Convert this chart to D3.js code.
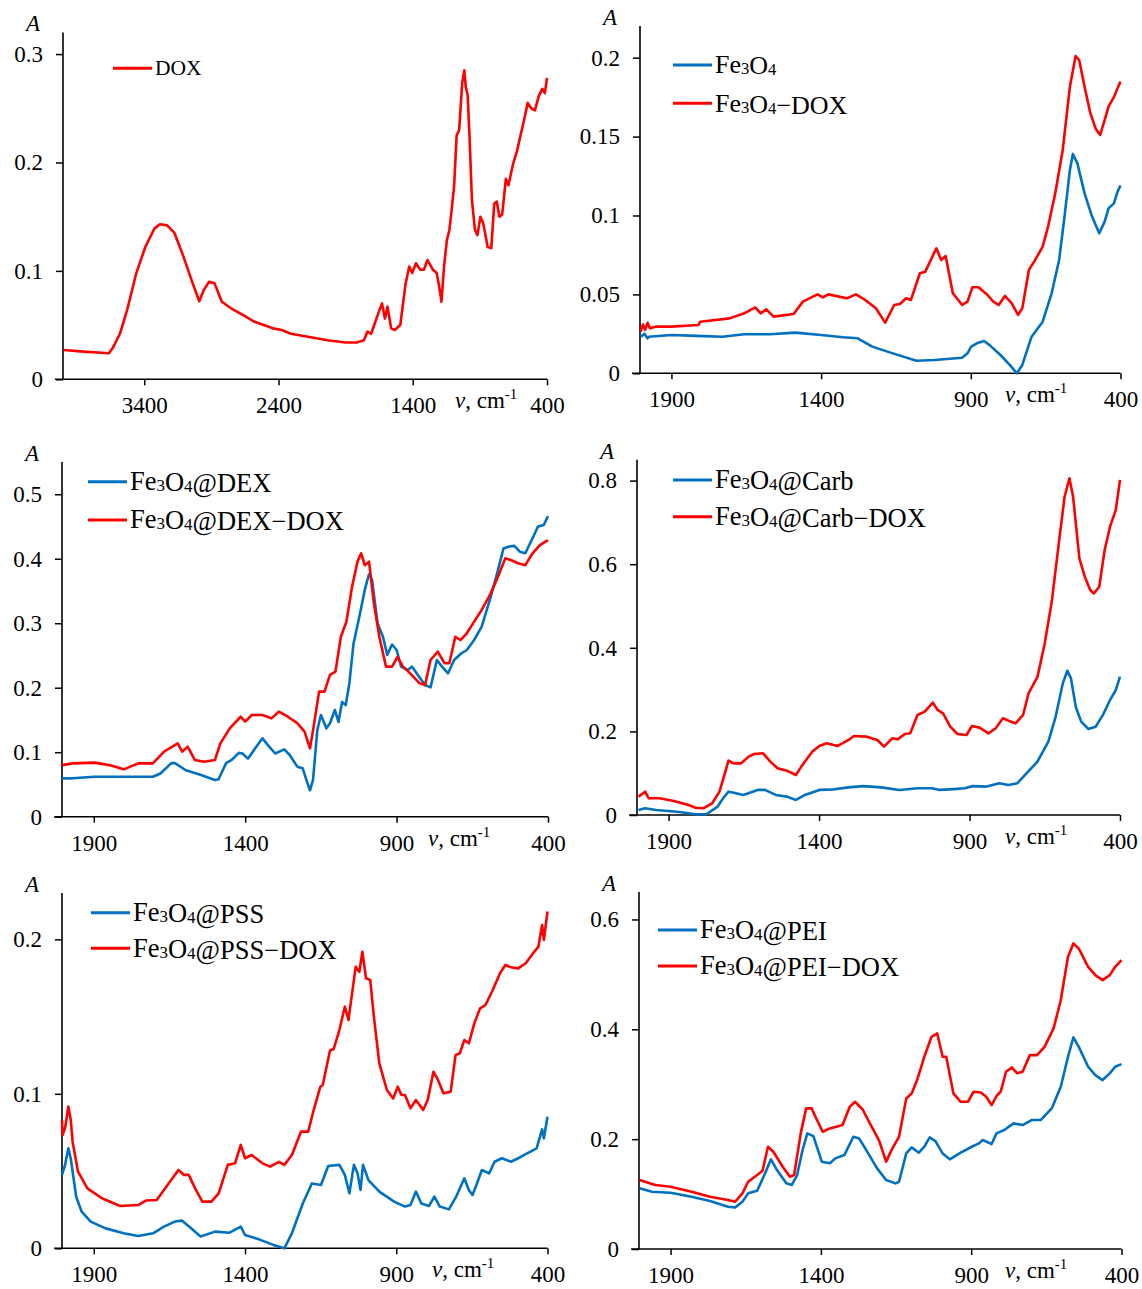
<!DOCTYPE html>
<html><head><meta charset="utf-8">
<script src="https://cdn.jsdelivr.net/npm/d3@7"></script>
<style>
body{margin:0;background:#fff}
svg{display:block;background:#fff}
text{font-family:"Liberation Serif","Times New Roman",serif;fill:#000}
</style>
</head><body>
<svg id="chart" width="1142" height="1289"></svg>
<script>
// ---------- DATA (wavenumber cm-1, absorbance) ----------
const doxSpectrum = [[4000,0.027],[3853,0.0255],[3663,0.024],[3636,0.0286],[3581,0.042],[3527,0.064],[3459,0.098],[3392,0.122],[3324,0.139],[3283,0.143],[3229,0.142],[3175,0.135],[3107,0.113],[3039,0.0885],[2990,0.072],[2958,0.082],[2917,0.090],[2876,0.0885],[2822,0.0716],[2754,0.0655],[2659,0.059],[2578,0.053],[2442,0.047],[2375,0.0455],[2307,0.042],[2171,0.039],[2035,0.036],[1900,0.034],[1818,0.034],[1764,0.036],[1737,0.044],[1710,0.042],[1656,0.061],[1629,0.070],[1607,0.056],[1588,0.067],[1561,0.047],[1534,0.0455],[1493,0.050],[1453,0.0885],[1426,0.104],[1404,0.098],[1376,0.107],[1344,0.101],[1317,0.101],[1290,0.110],[1249,0.101],[1222,0.098],[1203,0.0855],[1186,0.0716],[1167,0.104],[1146,0.128],[1127,0.138],[1113,0.153],[1092,0.178],[1073,0.225],[1054,0.230],[1032,0.273],[1016,0.285],[1005,0.270],[991,0.262],[978,0.227],[959,0.165],[937,0.138],[918,0.133],[896,0.150],[875,0.144],[842,0.122],[815,0.121],[793,0.162],[774,0.164],[755,0.150],[734,0.152],[706,0.185],[687,0.179],[652,0.199],[625,0.210],[571,0.239],[544,0.255],[517,0.250],[490,0.248],[462,0.261],[435,0.268],[416,0.264],[400,0.278]];

const fe3o4Spectrum = [[2003,0.0232],[1990,0.025],[1980,0.0222],[1975,0.0232],[1900,0.0243],[1816,0.0237],[1730,0.0232],[1657,0.0247],[1571,0.0247],[1486,0.0258],[1400,0.0243],[1327,0.0228],[1278,0.0222],[1229,0.0169],[1168,0.0131],[1082,0.0080],[1021,0.0084],[929,0.0099],[911,0.0127],[899,0.0169],[880,0.019],[856,0.0205],[838,0.018],[801,0.0116],[770,0.0053],[746,0.0],[728,0.0053],[697,0.0232],[660,0.0327],[630,0.0507],[605,0.0718],[587,0.0993],[569,0.1288],[559,0.139],[544,0.133],[520,0.114],[495,0.0993],[471,0.0887],[453,0.0961],[440,0.1045],[422,0.1077],[410,0.115],[400,0.119]];

const fe3o4DoxSpectrum = [[2003,0.0265],[1995,0.031],[1988,0.0275],[1980,0.032],[1972,0.0285],[1950,0.0296],[1900,0.0296],[1810,0.0306],[1804,0.0327],[1706,0.0348],[1657,0.038],[1620,0.0418],[1602,0.038],[1583,0.0405],[1559,0.0359],[1492,0.0376],[1461,0.0454],[1412,0.0500],[1394,0.0481],[1376,0.050],[1314,0.0475],[1284,0.050],[1253,0.0465],[1217,0.0412],[1186,0.0321],[1156,0.0433],[1137,0.0439],[1116,0.0475],[1100,0.0465],[1070,0.0634],[1052,0.0644],[1015,0.0792],[999,0.0718],[984,0.0743],[960,0.0507],[929,0.0433],[911,0.0454],[895,0.0545],[874,0.0545],[844,0.0496],[825,0.0454],[807,0.0433],[786,0.049],[764,0.0444],[742,0.037],[728,0.0412],[706,0.0655],[685,0.0718],[660,0.0803],[642,0.0929],[618,0.114],[593,0.1415],[569,0.1816],[550,0.201],[538,0.1985],[520,0.1816],[501,0.165],[483,0.155],[468,0.151],[453,0.1605],[440,0.169],[422,0.175],[410,0.1806],[400,0.1848]];

const dexSpectrum = [[2005,0.0595],[1970,0.0595],[1898,0.062],[1789,0.062],[1705,0.062],[1680,0.067],[1644,0.083],[1632,0.083],[1596,0.072],[1548,0.065],[1500,0.057],[1488,0.058],[1463,0.083],[1445,0.088],[1421,0.099],[1409,0.098],[1391,0.090],[1367,0.106],[1343,0.1215],[1325,0.111],[1301,0.098],[1271,0.1045],[1253,0.0957],[1228,0.0776],[1210,0.075],[1198,0.057],[1186,0.041],[1176,0.057],[1162,0.134],[1150,0.1577],[1132,0.137],[1120,0.145],[1104,0.1655],[1092,0.147],[1080,0.178],[1068,0.173],[1056,0.207],[1042,0.269],[1023,0.310],[1005,0.352],[991,0.376],[981,0.367],[963,0.300],[945,0.279],[931,0.251],[915,0.267],[900,0.2585],[885,0.2327],[863,0.2275],[849,0.2327],[830,0.2198],[806,0.2042],[788,0.2006],[767,0.243],[750,0.2327],[730,0.2223],[710,0.243],[686,0.2534],[668,0.2585],[644,0.274],[619,0.2947],[589,0.3413],[565,0.3826],[547,0.416],[529,0.419],[511,0.4199],[493,0.411],[475,0.4085],[451,0.4317],[433,0.450],[414,0.4524],[400,0.466]];

const dexDoxSpectrum = [[2005,0.080],[1970,0.0827],[1898,0.0838],[1849,0.080],[1801,0.0734],[1753,0.0827],[1705,0.0827],[1668,0.1008],[1623,0.1137],[1608,0.1008],[1590,0.1086],[1566,0.0879],[1536,0.0853],[1500,0.0879],[1482,0.1137],[1451,0.137],[1415,0.155],[1400,0.1474],[1378,0.1577],[1343,0.1577],[1313,0.1525],[1289,0.163],[1259,0.155],[1228,0.145],[1204,0.1319],[1186,0.106],[1174,0.1396],[1156,0.194],[1138,0.194],[1120,0.2198],[1102,0.225],[1084,0.279],[1066,0.302],[1047,0.357],[1029,0.3955],[1017,0.4085],[1005,0.390],[991,0.3955],[975,0.331],[957,0.279],[935,0.2327],[915,0.2327],[897,0.248],[879,0.2327],[855,0.2223],[824,0.2068],[806,0.2042],[788,0.243],[764,0.256],[742,0.238],[726,0.238],[706,0.279],[689,0.274],[668,0.2844],[644,0.3025],[619,0.3206],[589,0.3464],[565,0.3723],[541,0.4007],[523,0.398],[499,0.393],[475,0.390],[451,0.4085],[427,0.421],[400,0.429]];

const carbSpectrum = [[2000,0.012],[1978,0.016],[1942,0.012],[1900,0.0096],[1858,0.0064],[1810,0.0016],[1773,0.0024],[1737,0.020],[1719,0.040],[1701,0.0558],[1683,0.053],[1652,0.048],[1604,0.060],[1580,0.060],[1544,0.048],[1507,0.044],[1477,0.036],[1447,0.048],[1399,0.060],[1350,0.0614],[1302,0.066],[1254,0.069],[1193,0.066],[1133,0.060],[1073,0.064],[1024,0.064],[1000,0.060],[952,0.062],[916,0.064],[892,0.069],[843,0.068],[801,0.076],[771,0.072],[741,0.076],[710,0.100],[674,0.128],[638,0.1755],[614,0.235],[590,0.315],[575,0.3454],[563,0.327],[547,0.259],[529,0.2233],[505,0.2058],[481,0.211],[457,0.239],[433,0.275],[414,0.299],[400,0.331]];

const carbDoxSpectrum = [[2000,0.0439],[1978,0.0558],[1966,0.0399],[1930,0.0399],[1882,0.0335],[1834,0.024],[1810,0.0175],[1785,0.016],[1755,0.028],[1731,0.0558],[1713,0.0997],[1701,0.130],[1683,0.1236],[1659,0.1236],[1634,0.1396],[1616,0.146],[1586,0.1476],[1562,0.1276],[1538,0.1117],[1507,0.106],[1477,0.0957],[1459,0.1157],[1423,0.1515],[1399,0.1651],[1375,0.1715],[1338,0.1651],[1302,0.1795],[1284,0.189],[1242,0.1874],[1206,0.1795],[1184,0.1635],[1157,0.1835],[1139,0.181],[1115,0.1938],[1097,0.1954],[1073,0.2393],[1049,0.2473],[1022,0.2688],[1006,0.2513],[988,0.2433],[964,0.2114],[940,0.1938],[910,0.1914],[892,0.213],[867,0.209],[837,0.1954],[813,0.2074],[789,0.2313],[771,0.2257],[747,0.2193],[722,0.2393],[704,0.291],[674,0.331],[650,0.411],[626,0.5145],[602,0.658],[584,0.762],[568,0.8056],[556,0.762],[535,0.614],[517,0.570],[499,0.5384],[487,0.530],[469,0.546],[451,0.634],[433,0.690],[414,0.730],[400,0.8016]];

const pssSpectrum = [[2005,0.0475],[1996,0.053],[1984,0.0647],[1976,0.058],[1958,0.0334],[1940,0.0237],[1910,0.0173],[1861,0.0129],[1801,0.0097],[1753,0.008],[1704,0.0097],[1668,0.014],[1632,0.0173],[1608,0.0179],[1584,0.014],[1547,0.0076],[1499,0.0108],[1451,0.0101],[1414,0.014],[1400,0.0086],[1354,0.0058],[1306,0.0022],[1270,0.000],[1245,0.0097],[1209,0.029],[1179,0.042],[1149,0.041],[1125,0.0533],[1088,0.054],[1070,0.0475],[1055,0.0356],[1040,0.054],[1028,0.0485],[1018,0.0378],[1010,0.054],[992,0.0442],[956,0.0367],[907,0.0302],[871,0.027],[853,0.028],[835,0.0367],[817,0.029],[792,0.0274],[774,0.0334],[756,0.027],[726,0.0252],[702,0.0334],[675,0.0453],[660,0.0378],[648,0.0345],[635,0.041],[617,0.0507],[593,0.0485],[575,0.056],[551,0.0583],[521,0.056],[497,0.0583],[472,0.061],[436,0.0647],[418,0.077],[412,0.0712],[400,0.0852]];

const pssDoxSpectrum = [[2005,0.083],[2003,0.0733],[1994,0.0787],[1984,0.0917],[1976,0.083],[1970,0.069],[1952,0.0496],[1921,0.0388],[1873,0.0324],[1813,0.0274],[1753,0.028],[1728,0.0309],[1692,0.0313],[1656,0.041],[1620,0.0507],[1602,0.0475],[1586,0.0475],[1565,0.0388],[1541,0.0302],[1511,0.0302],[1487,0.0356],[1457,0.054],[1433,0.055],[1414,0.0669],[1400,0.0583],[1378,0.0604],[1342,0.055],[1317,0.0529],[1288,0.056],[1270,0.054],[1245,0.0604],[1215,0.0755],[1191,0.0755],[1173,0.0895],[1151,0.1046],[1143,0.1057],[1119,0.128],[1107,0.129],[1088,0.1413],[1070,0.1564],[1058,0.1478],[1046,0.165],[1034,0.1823],[1022,0.179],[1012,0.192],[1000,0.1748],[986,0.1737],[974,0.15],[956,0.1197],[931,0.1025],[910,0.097],[895,0.1046],[883,0.0992],[871,0.0992],[853,0.0906],[835,0.096],[811,0.0895],[796,0.096],[777,0.1143],[762,0.109],[744,0.1003],[720,0.1014],[704,0.1251],[690,0.1262],[675,0.1348],[660,0.1327],[642,0.1456],[623,0.1553],[605,0.1575],[581,0.1672],[557,0.178],[539,0.1834],[521,0.1819],[497,0.1812],[472,0.1845],[448,0.1909],[430,0.1953],[418,0.2093],[412,0.1996],[400,0.218]];

const peiSpectrum = [[2003,0.1104],[1962,0.1043],[1900,0.1025],[1830,0.0952],[1769,0.0874],[1709,0.077],[1685,0.0758],[1661,0.0861],[1642,0.1013],[1612,0.1062],[1588,0.1347],[1566,0.1632],[1546,0.1438],[1515,0.1195],[1497,0.1165],[1479,0.1347],[1461,0.180],[1445,0.2105],[1425,0.2056],[1397,0.159],[1370,0.156],[1352,0.165],[1322,0.171],[1292,0.2044],[1273,0.2014],[1249,0.180],[1213,0.1468],[1183,0.1256],[1152,0.1195],[1140,0.1225],[1116,0.174],[1098,0.185],[1074,0.1753],[1056,0.1862],[1038,0.2032],[1019,0.1965],[995,0.174],[971,0.1632],[935,0.1753],[898,0.1862],[874,0.1923],[862,0.1984],[832,0.1911],[816,0.2105],[790,0.2166],[759,0.2287],[729,0.2257],[699,0.2348],[669,0.2348],[632,0.256],[602,0.2954],[578,0.350],[560,0.3852],[542,0.368],[511,0.3318],[487,0.3167],[463,0.3076],[439,0.3197],[421,0.3318],[400,0.3367]];

const peiDoxSpectrum = [[2003,0.1256],[1951,0.1165],[1900,0.1134],[1830,0.1043],[1769,0.0952],[1709,0.0892],[1685,0.0861],[1661,0.1013],[1642,0.1225],[1612,0.1347],[1594,0.1426],[1576,0.1862],[1558,0.1771],[1527,0.1498],[1503,0.1316],[1489,0.1347],[1467,0.2105],[1449,0.256],[1431,0.256],[1413,0.2348],[1394,0.2135],[1370,0.2196],[1328,0.2257],[1304,0.259],[1286,0.268],[1261,0.254],[1237,0.2287],[1207,0.1984],[1183,0.159],[1165,0.180],[1140,0.2044],[1116,0.274],[1098,0.2833],[1080,0.3076],[1056,0.350],[1032,0.3864],[1013,0.3925],[995,0.350],[983,0.350],[959,0.2833],[935,0.268],[911,0.268],[892,0.2863],[868,0.285],[850,0.2772],[832,0.262],[814,0.280],[802,0.2863],[784,0.3227],[765,0.3306],[747,0.320],[729,0.3227],[705,0.353],[681,0.353],[656,0.368],[626,0.4016],[602,0.453],[578,0.532],[560,0.5563],[542,0.547],[511,0.5138],[487,0.4986],[463,0.4895],[439,0.4986],[421,0.5138],[400,0.526]];

const xTicksFull = [3400, 2400, 1400, 400];
const xTicksFinger = [1900, 1400, 900, 400];
const yTicksDox = [0, 0.1, 0.2, 0.3];
const yTicksFe3o4 = [0, 0.05, 0.1, 0.15, 0.2];
const yTicksDex = [0, 0.1, 0.2, 0.3, 0.4, 0.5];
const yTicksCarb = [0, 0.2, 0.4, 0.6, 0.8];
const yTicksPss = [0, 0.1, 0.2];
const yTicksPei = [0, 0.2, 0.4, 0.6];

const RED = "#ff0000", BLUE = "#0070c0";
const SERIF = '"Liberation Serif","Times New Roman",serif';

// ---------- LAYOUT ----------
const panels = [
  {left:63, right:547, top:32.4, bottom:379.3, xDomain:[4005,400], yMax:0.32, xTicks:xTicksFull, yTicks:yTicksDox,
   leg:{x:113, y:68.3, gap:37, fs:21.5}, unitX:455,
   series:[{label:"DOX", data:doxSpectrum, color:RED}]},
  {left:640, right:1120.5, top:26.1, bottom:373.3, xDomain:[2005,400], yMax:0.22, xTicks:xTicksFinger, yTicks:yTicksFe3o4,
   leg:{x:673, y:65, gap:38.3, fs:26}, unitX:1005,
   series:[{label:"Fe3O4", data:fe3o4Spectrum, color:BLUE},{label:"Fe3O4−DOX", data:fe3o4DoxSpectrum, color:RED}]},
  {left:62, right:548, top:462, bottom:816.7, xDomain:[2005,400], yMax:0.55, xTicks:xTicksFinger, yTicks:yTicksDex,
   leg:{x:88, y:481.7, gap:38.3, fs:26.5}, unitX:428,
   series:[{label:"Fe3O4@DEX", data:dexSpectrum, color:BLUE},{label:"Fe3O4@DEX−DOX", data:dexDoxSpectrum, color:RED}]},
  {left:637, right:1120, top:459.7, bottom:815, xDomain:[2005,400], yMax:0.85, xTicks:xTicksFinger, yTicks:yTicksCarb,
   leg:{x:673, y:480, gap:36.7, fs:26.5}, unitX:1005,
   series:[{label:"Fe3O4@Carb", data:carbSpectrum, color:BLUE},{label:"Fe3O4@Carb−DOX", data:carbDoxSpectrum, color:RED}]},
  {left:62, right:547.5, top:893, bottom:1248.3, xDomain:[2005,400], yMax:0.23, xTicks:xTicksFinger, yTicks:yTicksPss,
   leg:{x:91, y:912.7, gap:35.6, fs:26.5}, unitX:432,
   series:[{label:"Fe3O4@PSS", data:pssSpectrum, color:BLUE},{label:"Fe3O4@PSS−DOX", data:pssDoxSpectrum, color:RED}]},
  {left:639, right:1121.5, top:892, bottom:1249, xDomain:[2005,400], yMax:0.65, xTicks:xTicksFinger, yTicks:yTicksPei,
   leg:{x:658, y:930, gap:36, fs:26.5}, unitX:1005,
   series:[{label:"Fe3O4@PEI", data:peiSpectrum, color:BLUE},{label:"Fe3O4@PEI−DOX", data:peiDoxSpectrum, color:RED}]}
];

const svg = d3.select("#chart");
svg.append("rect").attr("width",1142).attr("height",1289).attr("fill","#fff");

function addLabel(sel, label, fs) {
  // digits are rendered as subscripts
  const parts = label.match(/(\d+|[^\d]+)/g);
  parts.forEach(p => {
    if (/^\d+$/.test(p)) {
      sel.append("tspan").style("font-size", (fs*0.64)+"px").attr("dy", 1).text(p);
      sel.append("tspan").attr("dy", -1).text("");
    } else {
      sel.append("tspan").text(p);
    }
  });
}

panels.forEach(p => {
  const x = d3.scaleLinear().domain(p.xDomain).range([p.left, p.right]);
  const y = d3.scaleLinear().domain([0, p.yMax]).range([p.bottom, p.top]);
  const g = svg.append("g");

  // y axis
  const ya = g.append("g").attr("transform", `translate(${p.left},0)`)
    .call(d3.axisLeft(y).tickValues(p.yTicks).tickSize(7).tickPadding(13).tickFormat(d => d === 0 ? "0" : String(+d.toFixed(2))));
  ya.attr("font-family", null).attr("font-size", null);
  ya.select(".domain").remove();
  ya.selectAll(".tick line").attr("stroke","#000").attr("stroke-width",1.5);
  ya.selectAll(".tick text").style("font-size","23px").style("font-family",SERIF).attr("fill","#000");
  g.append("line").attr("x1",p.left).attr("x2",p.left).attr("y1",p.bottom).attr("y2",p.top)
    .attr("stroke","#000").attr("stroke-width",1.6);

  // x axis
  const xa = g.append("g").attr("transform", `translate(0,${p.bottom})`)
    .call(d3.axisBottom(x).tickValues(p.xTicks).tickSize(6).tickFormat(d3.format("d")));
  xa.attr("font-family", null).attr("font-size", null);
  xa.select(".domain").remove();
  xa.selectAll(".tick line").attr("stroke","#000").attr("stroke-width",1.5);
  xa.selectAll(".tick text").style("font-size","23px").style("font-family",SERIF)
    .attr("fill","#000").attr("y",34).attr("dy",0);
  g.append("line").attr("x1",p.left-8).attr("x2",p.right).attr("y1",p.bottom).attr("y2",p.bottom)
    .attr("stroke","#000").attr("stroke-width",1.6);

  // axis titles
  g.append("text").attr("x", p.left-30).attr("y", p.top-1).attr("text-anchor","middle")
    .style("font-size","23px").style("font-style","italic").text("A");
  const ut = g.append("text").attr("x", p.unitX).attr("y", p.bottom+29).style("font-size","23px");
  ut.append("tspan").style("font-style","italic").text("ν");
  ut.append("tspan").text(", cm");
  ut.append("tspan").style("font-size","15px").attr("dy",-9).text("-1");

  // lines
  const line = d3.line().x(d => x(d[0])).y(d => y(d[1]));
  p.series.forEach(s => {
    g.append("path").datum(s.data).attr("d", line).attr("fill","none")
      .attr("stroke", s.color).attr("stroke-width", 2.6).attr("stroke-linejoin","round");
  });

  // legend
  p.series.forEach((s, i) => {
    const ly = p.leg.y + i*p.leg.gap;
    g.append("line").attr("x1",p.leg.x).attr("x2",p.leg.x+39).attr("y1",ly).attr("y2",ly)
      .attr("stroke",s.color).attr("stroke-width",3);
    const t = g.append("text").attr("x",p.leg.x+42).attr("y",ly + p.leg.fs*0.32).style("font-size",p.leg.fs+"px");
    addLabel(t, s.label, p.leg.fs);
  });
});
</script>
</body></html>
